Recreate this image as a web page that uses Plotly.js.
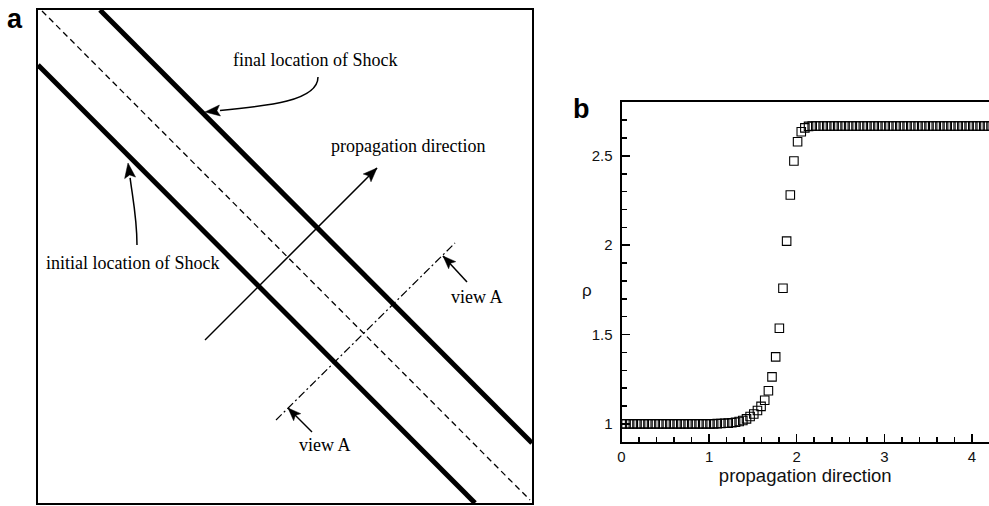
<!DOCTYPE html>
<html>
<head>
<meta charset="utf-8">
<script src="https://cdn.plot.ly/plotly-3.0.1.min.js"></script>
<style>
  html, body { margin: 0; padding: 0; background: #fff; overflow: hidden; }
  #chart { width: 989px; height: 506px; }
</style>
</head>
<body>
<div id="chart"></div>
<script>
// ---- Panel b: density profile across the shock ----
const positions = [
  0.010, 0.052, 0.093, 0.135, 0.177, 0.218, 0.260, 0.302, 0.343, 0.385,
  0.427, 0.468, 0.510, 0.552, 0.593, 0.635, 0.677, 0.718, 0.760, 0.802,
  0.843, 0.885, 0.927, 0.968, 1.010, 1.052, 1.093, 1.135, 1.177, 1.218,
  1.260, 1.302, 1.343, 1.385, 1.427, 1.468, 1.510, 1.552, 1.593, 1.635,
  1.677, 1.718, 1.760, 1.802, 1.843, 1.885, 1.927, 1.968, 2.010, 2.052,
  2.093, 2.135, 2.177, 2.218, 2.260, 2.302, 2.343, 2.385, 2.427, 2.468,
  2.510, 2.552, 2.593, 2.635, 2.677, 2.718, 2.760, 2.802, 2.843, 2.885,
  2.927, 2.968, 3.010, 3.052, 3.093, 3.135, 3.177, 3.218, 3.260, 3.302,
  3.343, 3.385, 3.427, 3.468, 3.510, 3.552, 3.593, 3.635, 3.677, 3.718,
  3.760, 3.802, 3.843, 3.885, 3.927, 3.968, 4.010, 4.052, 4.093, 4.135,
  4.177, 4.218
];
const density = [
  1.000, 1.000, 1.000, 1.000, 1.000, 1.000, 1.000, 1.000, 1.000, 1.000,
  1.000, 1.000, 1.000, 1.000, 1.000, 1.000, 1.000, 1.000, 1.000, 1.000,
  1.000, 1.000, 1.000, 1.000, 1.000, 1.000, 1.001, 1.002, 1.003, 1.004,
  1.006, 1.009, 1.013, 1.019, 1.028, 1.041, 1.055, 1.075, 1.098, 1.132,
  1.185, 1.263, 1.375, 1.535, 1.759, 2.023, 2.281, 2.471, 2.579, 2.635,
  2.657, 2.665, 2.667, 2.667, 2.667, 2.667, 2.667, 2.667, 2.667, 2.667,
  2.667, 2.667, 2.667, 2.667, 2.667, 2.667, 2.667, 2.667, 2.667, 2.667,
  2.667, 2.667, 2.667, 2.667, 2.667, 2.667, 2.667, 2.667, 2.667, 2.667,
  2.667, 2.667, 2.667, 2.667, 2.667, 2.667, 2.667, 2.667, 2.667, 2.667,
  2.667, 2.667, 2.667, 2.667, 2.667, 2.667, 2.667, 2.667, 2.667, 2.667,
  2.667, 2.667
];
const xTickLabels = ['0', '1', '2', '3', '4'];
const xTickValues = [0, 1, 2, 3, 4];
const yTickLabels = ['1', '1.5', '2', '2.5'];
const yTickValues = [1, 1.5, 2, 2.5];

// ---- Panel a: schematic of the oblique shock (box units, y up) ----
const finalShockU = [62, 494];
const finalShockV = [493, 60];
const initialShockU = [0, 437];
const initialShockV = [438, 0];
const midLineU = [4, 492];
const midLineV = [492, 3];
const propagationU = [167, 339];
const propagationV = [163, 335];
const viewLineU = [238, 417];
const viewLineV = [83, 260];
const viewArrowUpperU = [429, 405];
const viewArrowUpperV = [221, 247];
const viewArrowLowerU = [274, 250];
const viewArrowLowerV = [71, 95];

const SANS = 'Liberation Sans, Arial, sans-serif';
const SERIF = 'Liberation Serif, Times New Roman, serif';

function lineTrace(u, v, width, dash) {
  return {
    x: u, y: v, xaxis: 'x2', yaxis: 'y2', type: 'scatter', mode: 'lines',
    line: { color: '#000', width: width, dash: dash || 'solid' },
    hoverinfo: 'skip', showlegend: false
  };
}

// Filled, slightly barbed arrow head pointing along (dx, dy) with its tip at (tx, ty)
function arrowHead(tx, ty, dx, dy, len, half) {
  const n = Math.hypot(dx, dy);
  const ux = dx / n, uy = dy / n;
  const px = -uy, py = ux;
  const bx = tx - ux * len, by = ty - uy * len;
  const nx = tx - ux * len * 0.8, ny = ty - uy * len * 0.8;
  const p = (a, b) => a.toFixed(2) + ',' + b.toFixed(2);
  return {
    type: 'path', xref: 'x2', yref: 'y2',
    path: 'M' + p(tx, ty) + ' L' + p(bx + px * half, by + py * half) +
          ' L' + p(nx, ny) + ' L' + p(bx - px * half, by - py * half) + ' Z',
    fillcolor: '#000', line: { color: '#000', width: 0.5 }
  };
}

function curve(path) {
  return { type: 'path', xref: 'x2', yref: 'y2', path: path,
           line: { color: '#000', width: 1.5 } };
}

const traces = [
  // schematic
  lineTrace(finalShockU, finalShockV, 5),
  lineTrace(initialShockU, initialShockV, 5),
  lineTrace(midLineU, midLineV, 1.3, '6px,4px'),
  lineTrace(propagationU, propagationV, 1.5),
  lineTrace(viewLineU, viewLineV, 1.2, '8px,3px,2px,3px'),
  lineTrace(viewArrowUpperU, viewArrowUpperV, 1.5),
  lineTrace(viewArrowLowerU, viewArrowLowerV, 1.5),
  // density profile
  {
    x: positions, y: density, type: 'scatter', mode: 'markers',
    xaxis: 'x', yaxis: 'y',
    marker: { symbol: 'square-open', size: 8.5, color: '#000',
              line: { color: '#000', width: 1.1 } },
    hoverinfo: 'skip', showlegend: false
  }
];

const shapes = [
  curve('M280,426 C280,402 230,397 182,392.5'),
  curve('M99,258 C99,285 94.5,306 92.1,325.2'),
  arrowHead(167, 391, -1, -0.1, 15, 5.5),
  arrowHead(90, 340, -0.14, 0.99, 15, 5.5),
  arrowHead(propagationU[1], propagationV[1], 1, 1, 14, 5.5),
  arrowHead(viewArrowUpperU[1], viewArrowUpperV[1], -1, 1, 13, 5),
  arrowHead(viewArrowLowerU[1], viewArrowLowerV[1], -1, 1, 13, 5)
];

function diagramLabel(text, u, v) {
  return { text: text, x: u, y: v, xref: 'x2', yref: 'y2', showarrow: false,
           xanchor: 'center', yanchor: 'middle',
           font: { family: SERIF, size: 18, color: '#000' } };
}

const annotations = [
  diagramLabel('final location of Shock', 277, 443),
  diagramLabel('initial location of Shock', 94, 240),
  diagramLabel('propagation direction', 370, 357),
  diagramLabel('view A', 439, 206),
  diagramLabel('view A', 287, 58),
  { text: '<b>a</b>', x: 15 / 989, y: 1 - 19 / 506, xref: 'paper', yref: 'paper',
    showarrow: false, xanchor: 'center', yanchor: 'middle',
    font: { family: SANS, size: 27, color: '#000' } },
  { text: '<b>b</b>', x: 581 / 989, y: 1 - 109 / 506, xref: 'paper', yref: 'paper',
    showarrow: false, xanchor: 'center', yanchor: 'middle',
    font: { family: SANS, size: 27, color: '#000' } },
  { text: 'ρ', x: 587 / 989, y: 1 - 290 / 506, xref: 'paper', yref: 'paper',
    showarrow: false, xanchor: 'center', yanchor: 'middle',
    font: { family: SANS, size: 17, color: '#111' } }
];

const layout = {
  width: 989, height: 506,
  margin: { l: 0, r: 0, t: 0, b: 0, pad: 0 },
  paper_bgcolor: '#fff', plot_bgcolor: '#fff',
  showlegend: false,
  font: { family: SANS, color: '#000' },
  xaxis: {
    domain: [621.5 / 989, 1], range: [0, 4.195], anchor: 'y',
    showline: true, linecolor: '#000', linewidth: 2, mirror: true,
    showgrid: false, zeroline: false,
    tickmode: 'array', tickvals: xTickValues, ticktext: xTickLabels,
    ticks: 'inside', ticklen: 8, tickwidth: 1.5, tickcolor: '#000',
    minor: { dtick: 0.2, tick0: 0, ticks: 'inside', ticklen: 5, tickwidth: 1.5, tickcolor: '#000', showgrid: false },
    tickfont: { family: SANS, size: 15, color: '#111' },
    title: { text: 'propagation direction', standoff: 5,
             font: { family: SANS, size: 18.5, color: '#111' } },
    fixedrange: true
  },
  yaxis: {
    domain: [64.3 / 506, 403.7 / 506], range: [0.9, 2.8], anchor: 'x',
    showline: true, linecolor: '#000', linewidth: 2, mirror: false,
    showgrid: false, zeroline: false,
    tickmode: 'array', tickvals: yTickValues, ticktext: yTickLabels,
    ticks: 'inside', ticklen: 8, tickwidth: 1.5, tickcolor: '#000',
    minor: { dtick: 0.1, tick0: 0, ticks: 'inside', ticklen: 5, tickwidth: 1.5, tickcolor: '#000', showgrid: false },
    tickfont: { family: SANS, size: 15, color: '#111' },
    ticklabelstandoff: 4,
    fixedrange: true
  },
  xaxis2: {
    domain: [38 / 989, 532 / 989], range: [0, 494], anchor: 'y2',
    showline: true, linecolor: '#000', linewidth: 2, mirror: true,
    showgrid: false, zeroline: false, showticklabels: false, ticks: '',
    fixedrange: true
  },
  yaxis2: {
    domain: [3 / 506, 496 / 506], range: [0, 493], anchor: 'x2',
    showline: true, linecolor: '#000', linewidth: 2, mirror: true,
    showgrid: false, zeroline: false, showticklabels: false, ticks: '',
    fixedrange: true
  },
  shapes: shapes,
  annotations: annotations
};

Plotly.newPlot('chart', traces, layout, { staticPlot: true, displayModeBar: false });
</script>
</body>
</html>
